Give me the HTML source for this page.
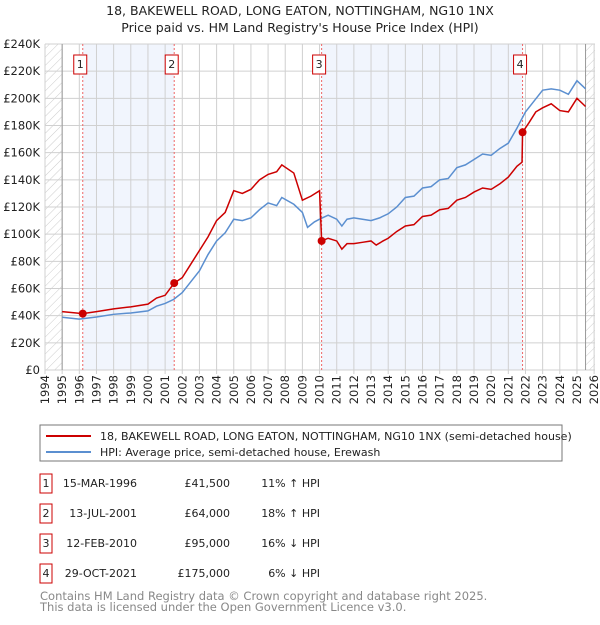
<!DOCTYPE html>
<html><head><meta charset="utf-8"><style>
body{margin:0;background:#fff;font-family:"Liberation Sans","DejaVu Sans",sans-serif;}
svg text{font-family:"DejaVu Sans","Liberation Sans",sans-serif;}
</style></head><body>
<svg id="c" width="600" height="620" viewBox="0 0 600 620">
<defs><pattern id="hatch" width="6" height="6" patternUnits="userSpaceOnUse" patternTransform="rotate(45)"><line x1="0" y1="0" x2="0" y2="6" stroke="#ccc" stroke-width="1"/></pattern></defs>
<text x="300" y="15" text-anchor="middle" font-size="12.5" fill="#222">18, BAKEWELL ROAD, LONG EATON, NOTTINGHAM, NG10 1NX</text>
<text x="300" y="32" text-anchor="middle" font-size="12.5" fill="#222">Price paid vs. HM Land Registry's House Price Index (HPI)</text>
<g id="plot"></g>
<rect x="40" y="425" width="522" height="36" fill="#fff" stroke="#777"/>
<line x1="46" y1="436" x2="91" y2="436" stroke="#cc0000" stroke-width="2"/>
<text x="100" y="440" font-size="11" fill="#222">18, BAKEWELL ROAD, LONG EATON, NOTTINGHAM, NG10 1NX (semi-detached house)</text>
<line x1="46" y1="452" x2="91" y2="452" stroke="#5b8fd0" stroke-width="2"/>
<text x="100" y="456" font-size="11" fill="#222">HPI: Average price, semi-detached house, Erewash</text>
<g id="table"></g>
<text x="40" y="600" font-size="11.5" fill="#888">Contains HM Land Registry data © Crown copyright and database right 2025.</text>
<text x="40" y="611" font-size="11.5" fill="#888">This data is licensed under the Open Government Licence v3.0.</text>
</svg>
<script>
const hpiYears=[1995,1996,1997,1998,1999,2000,2000.5,2001,2001.5,2002,2002.5,2003,2003.5,2004,2004.5,2005,2005.5,2006,2006.5,2007,2007.5,2007.8,2008.5,2009,2009.3,2009.7,2010,2010.5,2011,2011.3,2011.6,2012,2012.5,2013,2013.5,2014,2014.5,2015,2015.5,2016,2016.5,2017,2017.5,2018,2018.5,2019,2019.5,2020,2020.5,2021,2021.5,2022,2022.5,2023,2023.5,2024,2024.5,2025,2025.5];
const hpiValues=[38.8,37.5,39,41,42,43.5,47,49,52,57,65,73,85,95,101,111,110,112,118,123,121,127,122,116,105,109,111,114,111,106,111,112,111,110,112,115,120,127,128,134,135,140,141,149,151,155,159,158,163,167,178,190,198,206,207,206,203,213,207];
const priceYears=[1995,1996.2,1997,1998,1999,2000,2000.5,2001,2001.53,2002,2002.5,2003,2003.5,2004,2004.5,2005,2005.5,2006,2006.5,2007,2007.5,2007.8,2008.5,2009,2009.5,2010,2010.12,2010.5,2011,2011.3,2011.6,2012,2012.5,2013,2013.3,2013.7,2014,2014.5,2015,2015.5,2016,2016.5,2017,2017.5,2018,2018.5,2019,2019.5,2020,2020.5,2021,2021.5,2021.8,2021.83,2022.2,2022.6,2023,2023.5,2024,2024.5,2025,2025.5];
const priceValues=[43,41.5,43,45,46.5,48.5,53,55,64,68,78,88,98,110,116,132,130,133,140,144,146,151,145,125,128,132,95,97,95,89,93,93,94,95,92,95,97,102,106,107,113,114,118,119,125,127,131,134,133,137,142,150,153,175,182,190,193,196,191,190,200,194];
const saleLabels=["1","2","3","4"];
const saleYears=[1996.2,2001.53,2010.12,2021.83];
const saleValues=[41.5,64,95,175];
const saleDates=["15-MAR-1996","13-JUL-2001","12-FEB-2010","29-OCT-2021"];
const salePrices=["£41,500","£64,000","£95,000","£175,000"];
const saleHpi=["11% ↑ HPI","18% ↑ HPI","16% ↓ HPI","6% ↓ HPI"];
const yTicks=[0,20,40,60,80,100,120,140,160,180,200,220,240];
const xTickYears=[];for(let y=1994;y<=2026;y++)xTickYears.push(y);

const NS="http://www.w3.org/2000/svg";
const L=45,R=595,T=44,B=370;
const x=y=>L+(y-1994)*17.16;
const yv=v=>B-(v/240)*(B-T);
const g=document.getElementById('plot');
function mk(t,a,p){const e=document.createElementNS(NS,t);for(const k in a)e.setAttribute(k,a[k]);(p||g).appendChild(e);return e;}
let e;
e=mk('rect',{x:L,y:T,width:R-L,height:B-T,fill:'#fff'});


e=mk('rect',{x:x(saleYears[0]),y:T,width:x(saleYears[1])-x(saleYears[0]),height:B-T,fill:'#eef3fd',opacity:0.8});


e=mk('rect',{x:x(saleYears[2]),y:T,width:x(saleYears[3])-x(saleYears[2]),height:B-T,fill:'#eef3fd',opacity:0.8});


e=mk('rect',{x:L,y:T,width:x(1995)-L,height:B-T,fill:'url(#hatch)'});


e=mk('rect',{x:x(2025.5),y:T,width:R-x(2025.5),height:B-T,fill:'url(#hatch)'});


xTickYears.forEach(yr=>{
  if(x(yr)<=R){e=mk('line',{x1:x(yr),y1:T,x2:x(yr),y2:B+4,stroke:'#d0d0d0','stroke-width':1});
  
  }
  e=mk('text',{x:0,y:0,transform:`translate(${x(yr)+4},${B+5}) rotate(-90)`,'text-anchor':'end','font-size':11.5,fill:'#222'});
  e.textContent=yr;
  
  
});
yTicks.forEach(v=>{
  e=mk('line',{x1:L,y1:yv(v),x2:R,y2:yv(v),stroke:'#d0d0d0','stroke-width':1});
  
  
  e=mk('text',{x:L-5,y:yv(v)+4,'text-anchor':'end','font-size':11.5,fill:'#222'});
  e.textContent=v===0?'£0':'£'+v+'K';
  
  
});
e=mk('line',{x1:x(1995),y1:T,x2:x(1995),y2:B,stroke:'#999'});


e=mk('line',{x1:x(2025.5),y1:T,x2:x(2025.5),y2:B,stroke:'#999'});


saleYears.forEach((s,i)=>{
  e=mk('line',{x1:x(s),y1:T,x2:x(s),y2:B,stroke:'#ee6666','stroke-dasharray':'2,2'});
  
  
});
e=mk('polyline',{points:hpiYears.map((d,i)=>x(d)+','+yv(hpiValues[i])).join(' '),fill:'none',stroke:'#5b8fd0','stroke-width':1.5});


e=mk('polyline',{points:priceYears.map((d,i)=>x(d)+','+yv(priceValues[i])).join(' '),fill:'none',stroke:'#cc0000','stroke-width':1.5});


saleYears.forEach((s,i)=>{
  e=mk('circle',{cx:x(s),cy:yv(saleValues[i]),r:4,fill:'#cc0000'});
  
  
  e=mk('rect',{x:x(s)-9,y:55,width:13,height:19,fill:'#fff',stroke:'#cc0000'});
  
  
  e=mk('text',{x:x(s)-2.5,y:68,'text-anchor':'middle','font-size':11,fill:'#222'});
  e.textContent=saleLabels[i];
  
  
});
const tb=document.getElementById('table');
saleLabels.forEach((lb,i)=>{
  const cy=483+i*30;
  e=mk('rect',{x:40,y:cy-9,width:12,height:19,fill:'#fff',stroke:'#cc0000'},tb);
  
  
  e=mk('text',{x:46,y:cy+4,'text-anchor':'middle','font-size':11,fill:'#222'},tb);
  e.textContent=lb;
  
  
  e=mk('text',{x:137,y:cy+4,'text-anchor':'end','font-size':11,fill:'#222'},tb);
  e.textContent=saleDates[i];
  
  
  e=mk('text',{x:230,y:cy+4,'text-anchor':'end','font-size':11,fill:'#222'},tb);
  e.textContent=salePrices[i];
  
  
  e=mk('text',{x:320,y:cy+4,'text-anchor':'end','font-size':11,fill:'#222'},tb);
  e.textContent=saleHpi[i];
  
  
});
</script>
</body></html>
